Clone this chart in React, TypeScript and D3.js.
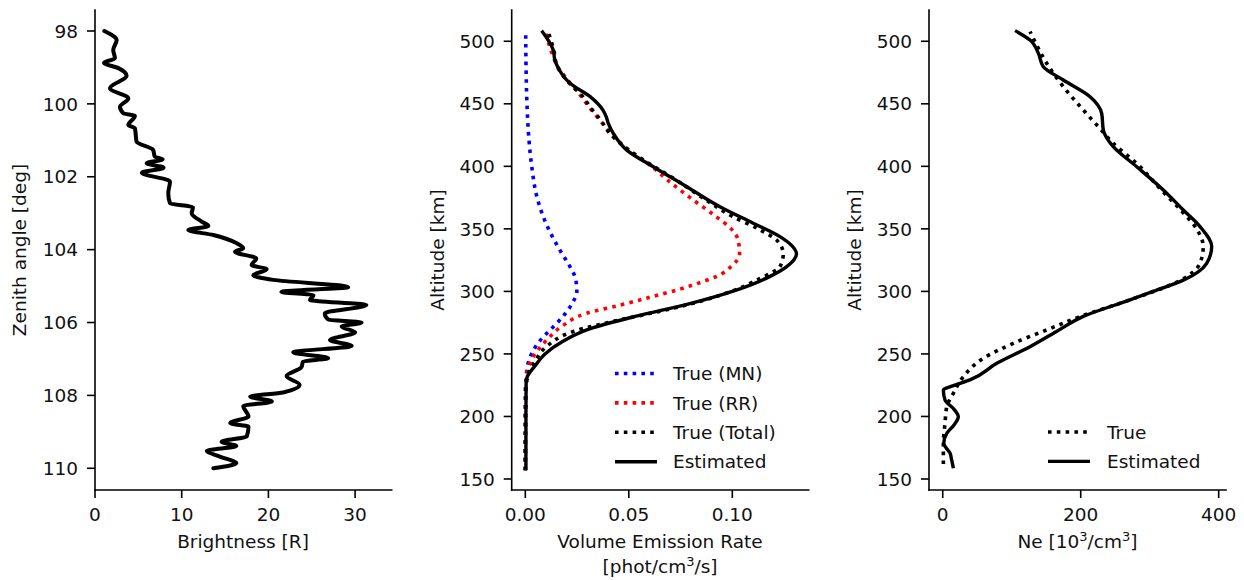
import React from "react";
import * as d3 from "d3";

// ---------- Panel 1: brightness vs zenith angle ----------
const zenith = [98.0, 98.25, 98.52, 98.75, 98.87, 99.02, 99.23, 99.57, 99.85, 100.08, 100.26, 100.33, 100.58, 100.67, 101.04, 101.26, 101.45, 101.52, 101.63, 101.75, 101.89, 102.13, 102.45, 102.73, 102.84, 103.0, 103.23, 103.35, 103.46, 103.6, 103.82, 103.96, 104.06, 104.24, 104.42, 104.54, 104.7, 104.83, 105.03, 105.16, 105.25, 105.38, 105.52, 105.75, 105.92, 106.0, 106.11, 106.27, 106.48, 106.64, 106.82, 106.98, 107.07, 107.23, 107.47, 107.71, 107.92, 108.03, 108.17, 108.29, 108.58, 108.76, 108.86, 109.13, 109.27, 109.39, 109.52, 109.68, 109.86, 110.0];
const brightness = [1.08, 2.5, 2.1, 2.3, 1.04, 2.7, 3.65, 1.73, 3.84, 2.88, 3.27, 4.6, 3.84, 4.6, 4.8, 6.7, 6.9, 7.8, 5.96, 7.9, 5.4, 8.65, 8.45, 8.65, 11.3, 11.15, 12.3, 13.07, 10.76, 13.65, 16.3, 17.1, 16.15, 18.6, 18.07, 19.8, 18.26, 20.57, 29.2, 21.5, 25.2, 24.8, 31.3, 26.5, 26.9, 30.75, 28.45, 30.0, 27.1, 29.6, 22.87, 26.9, 24.0, 23.8, 22.1, 23.6, 21.7, 17.9, 20.4, 17.1, 17.7, 15.6, 17.7, 17.5, 14.6, 16.3, 12.9, 14.4, 16.3, 13.65];
const brightTicks = [0, 10, 20, 30];
const zenithTicks = [98, 100, 102, 104, 106, 108, 110];

// ---------- Panel 2: volume emission rate ----------
const altMN = [157, 220, 230, 240, 250, 260, 270, 280, 290, 300, 310, 320, 330, 340, 350, 375, 400, 425, 450, 475, 506];
const verMN = [0, 0.0001, 0.0004, 0.001, 0.003, 0.0068, 0.0125, 0.0182, 0.0225, 0.0249, 0.0243, 0.0215, 0.0178, 0.0143, 0.0112, 0.0057, 0.0031, 0.0016, 0.0008, 0.0004, 0.0002];

const altRR = [157, 220, 230, 240, 250, 261, 273, 282.5, 289, 296, 302, 308, 312, 320, 330, 340, 350, 360, 375, 390, 400, 413, 426, 437, 446, 458, 470, 480, 490, 500, 507];
const verRR = [0, 0.0001, 0.0005, 0.0016, 0.0047, 0.0103, 0.0184, 0.0296, 0.0457, 0.0618, 0.075, 0.086, 0.0925, 0.0995, 0.1035, 0.103, 0.0995, 0.092, 0.0796, 0.068, 0.061, 0.05, 0.0415, 0.036, 0.0315, 0.026, 0.02, 0.0155, 0.013, 0.011, 0.0098];

const altTotal = [157, 220, 230, 234.5, 244, 256, 268, 277, 283, 290, 300, 310, 320, 330, 340, 350, 360, 375, 390, 400, 413, 426, 437, 446, 458, 466, 478, 485, 493, 500, 507.7];
const verTotal = [0, 0.0002, 0.0009, 0.0015, 0.0047, 0.0103, 0.0232, 0.045, 0.062, 0.08, 0.0995, 0.113, 0.1231, 0.1246, 0.122, 0.1125, 0.1, 0.0855, 0.072, 0.062, 0.05, 0.041, 0.0364, 0.032, 0.0266, 0.0216, 0.016, 0.0145, 0.0138, 0.0125, 0.0111];

const altEst = [157, 200, 227, 232, 236, 240, 250, 260, 270, 280, 290, 300, 311.8, 319.8, 330, 337, 343.8, 354.5, 367.7, 383.7, 399.7, 413, 426.4, 434.4, 440, 445, 455.7, 466.4, 478.4, 485, 493, 508.5];
const verEst = [0.0003, 0.0003, 0.0004, 0.001, 0.0025, 0.0045, 0.0095, 0.018, 0.031, 0.053, 0.079, 0.1, 0.118, 0.1263, 0.131, 0.1285, 0.123, 0.1101, 0.094, 0.078, 0.0618, 0.049, 0.0425, 0.0401, 0.039, 0.0375, 0.0313, 0.0216, 0.016, 0.0143, 0.0135, 0.0079];

const verTicks = [0, 0.05, 0.1];
const altTicks = [150, 200, 250, 300, 350, 400, 450, 500];

// ---------- Panel 3: electron density ----------
const altNeTrue = [162, 178.5, 194.5, 207.8, 218.5, 231.8, 246.5, 258.5, 269.2, 280, 293, 309, 322.5, 335.8, 350, 365, 381, 402.3, 418.4, 431.7, 445, 463.7, 482.4, 495, 507.7];
const neTrue = [0.9, 0.9, 3.3, 5.8, 15.4, 29.9, 58.8, 102.3, 150.7, 200, 270, 345, 372.9, 377.6, 368, 345, 317, 281.2, 247.2, 225.5, 203.8, 174.8, 150.7, 138, 126.5];

const altNeEst = [158.6, 165, 170.6, 178.5, 186.5, 193, 199.8, 206, 213.2, 221.2, 224, 229.2, 242.5, 255.8, 268, 280, 293.2, 300, 309, 322.5, 335.8, 351.8, 365.1, 381.1, 399.7, 415.7, 429, 442.4, 455.7, 469, 479.7, 490.4, 501, 508.5];
const neEst = [15.4, 13, 10.6, 1.5, 5.8, 16, 22.6, 16, 3.3, 0.9, 12, 39.5, 78.3, 126.5, 165, 203.8, 271.4, 305, 348.7, 382.6, 389.9, 372.9, 348.7, 319.7, 281.2, 247.2, 232.8, 230.4, 213.5, 174.8, 145.8, 138.6, 126.5, 104.8];

const neTicks = [0, 200, 400];

const FONT = "'DejaVu Sans', sans-serif";
const FS = 18.5;
const TOP = 10;
const BOTTOM = 490;
const TICK = 8;
const PAD = 9;

type Lin = d3.ScaleLinear<number, number>;

function Axes({ x, y, xTicks, yTicks, xFmt, yFmt }: { x: Lin; y: Lin; xTicks: number[]; yTicks: number[]; xFmt: (v: number) => string; yFmt: (v: number) => string }) {
  const [x0, x1] = x.range();
  const [yb, yt] = y.range();
  return (
    <g>
      <line x1={x0} x2={x0} y1={yt} y2={yb} stroke="#000" strokeWidth={1.6} strokeLinecap="square" />
      <line x1={x0} x2={x1} y1={yb} y2={yb} stroke="#000" strokeWidth={1.6} strokeLinecap="square" />
      {xTicks.map((t) => (
        <g key={"x" + t}>
          <line x1={x(t)} x2={x(t)} y1={yb} y2={yb + TICK} stroke="#000" strokeWidth={1.6} />
          <text x={x(t)} y={yb + TICK + PAD + 14} textAnchor="middle" fontFamily={FONT} fontSize={FS} fill="#111">{xFmt(t)}</text>
        </g>
      ))}
      {yTicks.map((t) => (
        <g key={"y" + t}>
          <line x1={x0 - TICK} x2={x0} y1={y(t)} y2={y(t)} stroke="#000" strokeWidth={1.6} />
          <text x={x0 - TICK - PAD} y={y(t)} dy="0.36em" textAnchor="end" fontFamily={FONT} fontSize={FS} fill="#111">{yFmt(t)}</text>
        </g>
      ))}
    </g>
  );
}

const DOT = { strokeWidth: 3.6, strokeDasharray: "3.6 5.2" };

export default function App() {
  // Panel 1 scales
  const xB = d3.scaleLinear().domain([0, 34.22]).range([95, 391.7]);
  const yZ = d3.scaleLinear().domain([110.596, 97.424]).range([BOTTOM, TOP]);
  // Panel 2
  const xV = d3.scaleLinear().domain([-0.00657, 0.1369]).range([511.7, 808.7]);
  const yA = d3.scaleLinear().domain([141.2, 525.0]).range([BOTTOM, TOP]);
  // Panel 3
  const xN = d3.scaleLinear().domain([-19.9, 410.6]).range([929, 1226]);

  const brightLine = d3.line<number>().x((_, i) => xB(brightness[i])).y((z) => yZ(z)).curve(d3.curveMonotoneY);
  const mkV = (vals: number[]) => d3.line<number>().x((_, i) => xV(vals[i])).y((a) => yA(a)).curve(d3.curveMonotoneY);
  const mkN = (vals: number[]) => d3.line<number>().x((_, i) => xN(vals[i])).y((a) => yA(a)).curve(d3.curveMonotoneY);

  const fmt2 = (v: number) => v.toFixed(2);
  const fmt0 = (v: number) => String(v);

  const legendMid = [
    { label: "True (MN)", color: "#0000ff", dotted: true },
    { label: "True (RR)", color: "#ff0000", dotted: true },
    { label: "True (Total)", color: "#000", dotted: true },
    { label: "Estimated", color: "#000", dotted: false },
  ];
  const legendRight = [
    { label: "True", color: "#000", dotted: true },
    { label: "Estimated", color: "#000", dotted: false },
  ];

  return (
    <svg width={1244} height={580} style={{ position: "fixed", left: 0, top: 0, background: "#fff" }}>
      <rect width={1244} height={580} fill="#fff" />
      {/* Panel 1 */}
      <path d={brightLine(zenith) || ""} fill="none" stroke="#000" strokeWidth={4} strokeLinejoin="round" strokeLinecap="round" />
      <Axes x={xB} y={yZ} xTicks={brightTicks} yTicks={zenithTicks} xFmt={fmt0} yFmt={fmt0} />
      <text x={243} y={548} textAnchor="middle" fontFamily={FONT} fontSize={FS} fill="#111">Brightness [R]</text>
      <text transform="translate(26,250) rotate(-90)" textAnchor="middle" fontFamily={FONT} fontSize={FS} fill="#111">Zenith angle [deg]</text>

      {/* Panel 2 */}
      <path d={mkV(verMN)(altMN) || ""} fill="none" stroke="#0000ff" {...DOT} />
      <path d={mkV(verRR)(altRR) || ""} fill="none" stroke="#ff0000" {...DOT} />
      <path d={mkV(verTotal)(altTotal) || ""} fill="none" stroke="#000" {...DOT} />
      <path d={mkV(verEst)(altEst) || ""} fill="none" stroke="#000" strokeWidth={3.4} />
      <Axes x={xV} y={yA} xTicks={verTicks} yTicks={altTicks} xFmt={fmt2} yFmt={fmt0} />
      <text x={660} y={548} textAnchor="middle" fontFamily={FONT} fontSize={FS} fill="#111">Volume Emission Rate</text>
      <text x={660} y={573} textAnchor="middle" fontFamily={FONT} fontSize={FS} fill="#111">
        [phot/cm<tspan dy={-7} fontSize={13}>3</tspan><tspan dy={7}>/s]</tspan>
      </text>
      <text transform="translate(444,250) rotate(-90)" textAnchor="middle" fontFamily={FONT} fontSize={FS} fill="#111">Altitude [km]</text>
      {legendMid.map((d, i) => {
        const yy = 373.5 + i * 29.4;
        return (
          <g key={d.label}>
            <line x1={615} x2={657} y1={yy} y2={yy} stroke={d.color} {...(d.dotted ? DOT : { strokeWidth: 3.4 })} />
            <text x={673} y={yy} dy="0.36em" fontFamily={FONT} fontSize={FS} fill="#111">{d.label}</text>
          </g>
        );
      })}

      {/* Panel 3 */}
      <path d={mkN(neTrue)(altNeTrue) || ""} fill="none" stroke="#000" {...DOT} />
      <path d={mkN(neEst)(altNeEst) || ""} fill="none" stroke="#000" strokeWidth={3.4} />
      <Axes x={xN} y={yA} xTicks={neTicks} yTicks={altTicks} xFmt={fmt0} yFmt={fmt0} />
      <text x={1077.5} y={548} textAnchor="middle" fontFamily={FONT} fontSize={FS} fill="#111">
        Ne [10<tspan dy={-7} fontSize={13}>3</tspan><tspan dy={7}>/cm</tspan><tspan dy={-7} fontSize={13}>3</tspan><tspan dy={7}>]</tspan>
      </text>
      <text transform="translate(861,250) rotate(-90)" textAnchor="middle" fontFamily={FONT} fontSize={FS} fill="#111">Altitude [km]</text>
      {legendRight.map((d, i) => {
        const yy = 432 + i * 29.4;
        return (
          <g key={d.label}>
            <line x1={1048} x2={1090} y1={yy} y2={yy} stroke={d.color} {...(d.dotted ? DOT : { strokeWidth: 3.4 })} />
            <text x={1107} y={yy} dy="0.36em" fontFamily={FONT} fontSize={FS} fill="#111">{d.label}</text>
          </g>
        );
      })}
    </svg>
  );
}
